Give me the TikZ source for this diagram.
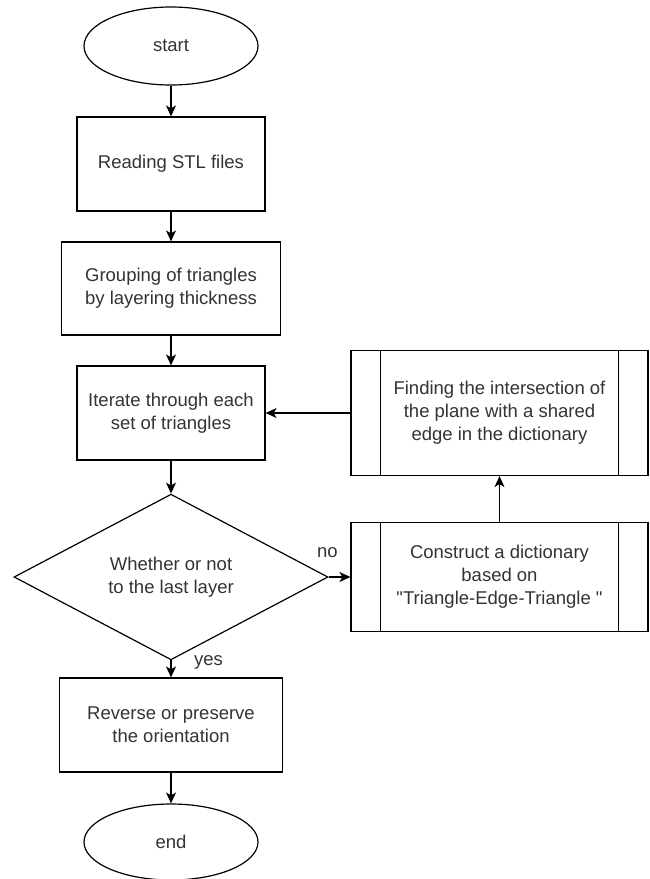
\documentclass[tikz,border=0pt]{standalone}
\usepackage{fontspec}
\setmainfont{Liberation Sans}[Ligatures=TeXOff]
\usetikzlibrary{shapes.geometric,arrows.meta}
\begin{document}
\begin{tikzpicture}[x=1pt, y=-1pt, line width=1.2pt,
    font=\fontsize{18.5}{23}\selectfont,
    term/.style={draw, ellipse, inner sep=0pt, minimum width=174pt, minimum height=78pt, text=black!80},
    proc/.style={draw, rectangle, align=center, inner sep=0pt, minimum height=94pt, text=black!80},
    subproc/.style={proc, minimum width=297pt},
    decision/.style={draw, diamond, align=center, inner sep=0pt, minimum width=314pt, minimum height=139pt, text=black!80},
    lbl/.style={text=black!80},
    flow/.style={-{Stealth[length=11pt, width=10pt, inset=3pt]}}]
  \useasboundingbox (0,0) rectangle (650,879);
  \node[term] (start) at (171,46) {start};
  \node[proc, minimum width=188pt] (read) at (171,164) {Reading STL files};
  \node[proc, minimum width=219pt, minimum height=93pt] (group) at (171,288.5) {Grouping of triangles\\by layering thickness};
  \node[proc, minimum width=188pt] (iter) at (171,413) {Iterate through each\\set of triangles};
  \node[decision] (last) at (171,577) {Whether or not\\to the last layer};
  \node[proc, minimum width=223pt] (rev) at (171,725) {Reverse or preserve\\the orientation};
  \node[term, minimum height=76pt] (end) at (171,842) {end};
  \node[subproc, minimum height=125pt] (find) at (499.5,413) {Finding the intersection of\\the plane with a shared\\edge in the dictionary};
  \node[subproc, minimum height=109pt] (cons) at (499.5,577) {Construct a dictionary\\based on\\"Triangle-Edge-Triangle "};
  \foreach \n in {find,cons}
    \draw ([xshift=30pt]\n.north west) -- ([xshift=30pt]\n.south west)
          ([xshift=-30pt]\n.north east) -- ([xshift=-30pt]\n.south east);
  \node[lbl] (no) at (327.5,553) {no};
  \node[lbl] (yes) at (208.5,662) {yes};
  \draw[flow] (start) -- (read);
  \draw[flow] (read) -- (group);
  \draw[flow] (group) -- (iter);
  \draw[flow] (iter) -- (last);
  \draw[flow] (last) -- (cons);
  \draw[flow] (cons) -- (find);
  \draw[flow] (find) -- (iter);
  \draw[flow] (last) -- (rev);
  \draw[flow] (rev) -- (end);
\end{tikzpicture}
\end{document}
